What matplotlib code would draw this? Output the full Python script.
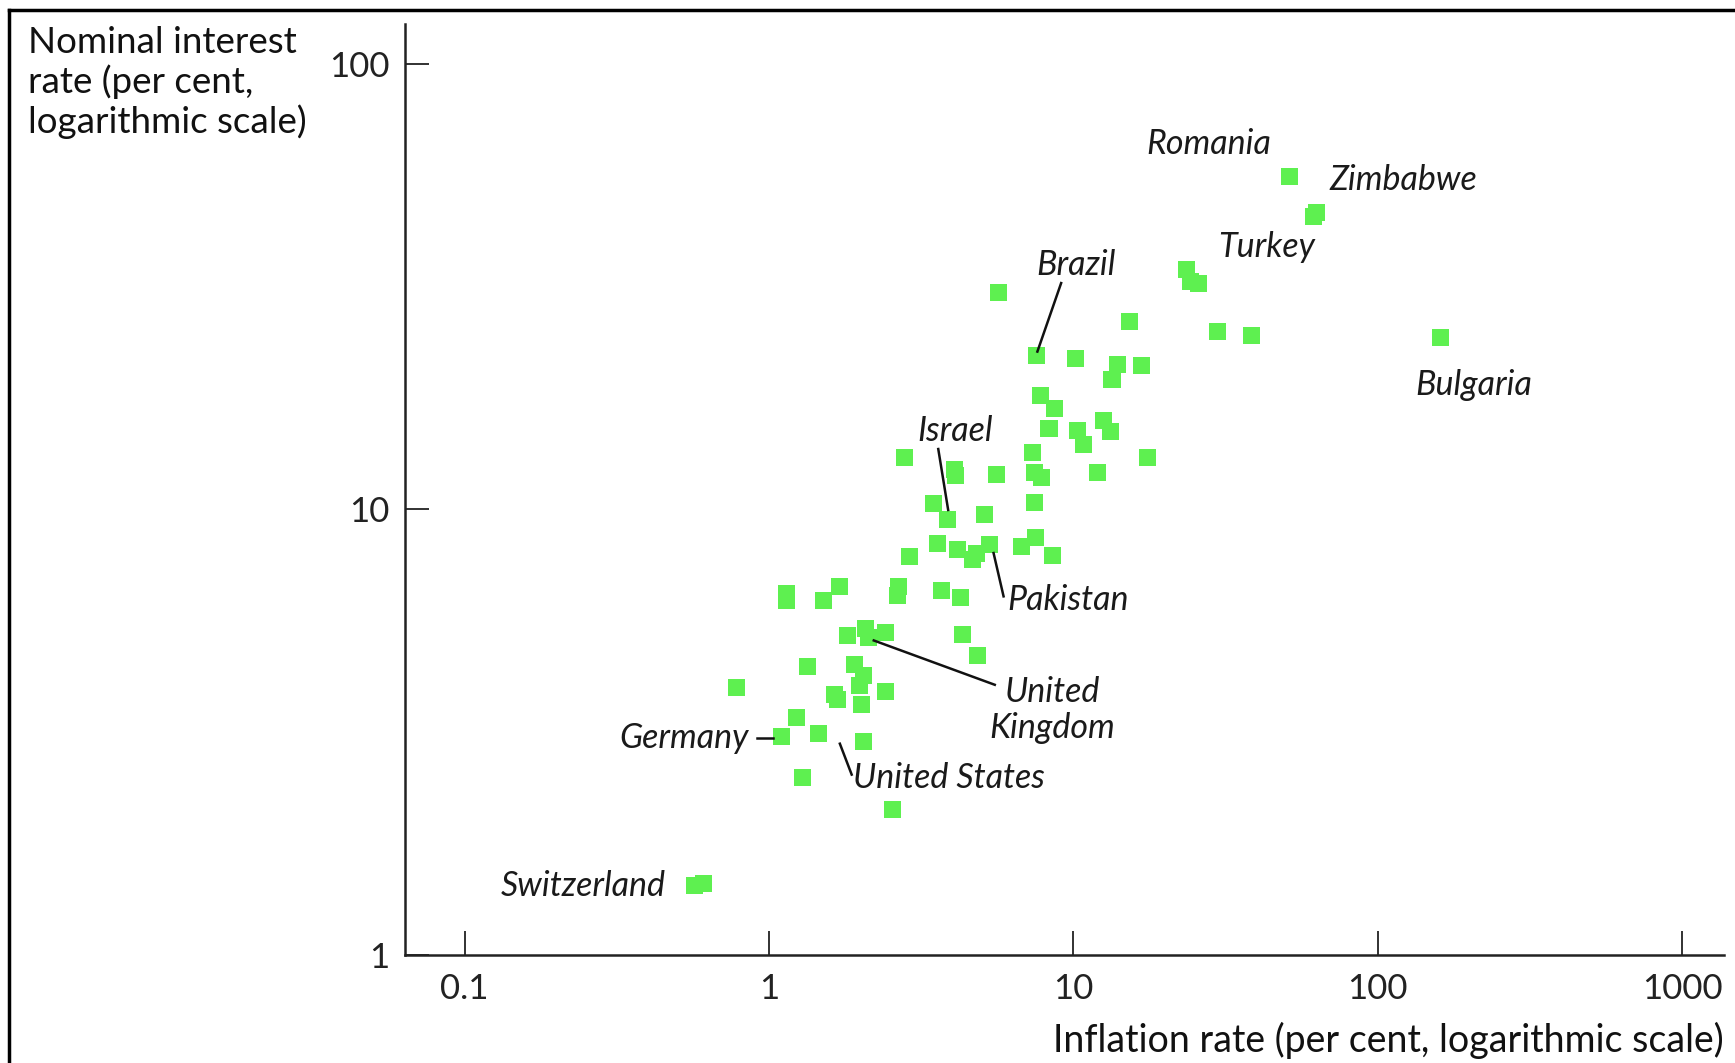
import numpy as np
import matplotlib.pyplot as plt
from matplotlib.lines import Line2D

plt.rcParams['font.family'] = ['Lato', 'DejaVu Sans']

# inflation rate and nominal interest rate, per cent
inflation = [0.57, 0.61, 0.785, 1.10, 1.23, 1.29, 1.46, 1.34, 1.14, 1.14,
             1.51, 1.71, 1.81, 2.07, 2.12, 2.41, 1.905, 2.04, 1.99, 1.68,
             1.64, 2.02, 2.41, 2.04, 2.55, 2.64, 2.66, 2.90, 2.78, 3.48,
             3.85, 3.57, 4.15, 3.69, 4.26, 4.08, 4.10, 4.33, 4.83, 4.67,
             4.79, 5.12, 5.29, 5.61, 5.66, 6.75, 7.34, 7.46, 7.84, 7.46,
             7.52, 8.53, 7.59, 7.78, 8.67, 8.32, 10.2, 10.3, 10.8, 12.0,
             12.6, 13.2, 13.4, 14.0, 15.3, 16.7, 17.5, 23.5, 24.3, 25.8,
             29.7, 38.5, 51.2, 61.5, 63.0, 161]
interest = [1.43, 1.45, 3.99, 3.09, 3.42, 2.50, 3.14, 4.43, 6.46, 6.24,
            6.24, 6.72, 5.22, 5.41, 5.16, 5.29, 4.48, 4.23, 4.02, 3.75,
            3.84, 3.64, 3.90, 3.02, 2.12, 6.42, 6.72, 7.84, 13.05, 10.3,
            9.47, 8.40, 8.11, 6.57, 6.35, 12.3, 11.9, 5.25, 4.71, 7.71,
            7.98, 9.75, 8.35, 11.97, 30.6, 8.26, 13.43, 12.1, 11.77, 10.38,
            8.64, 7.88, 22.2, 17.97, 16.87, 15.2, 21.8, 15.06, 13.97, 12.1,
            15.85, 14.97, 19.6, 21.1, 26.4, 21.0, 13.05, 34.5, 32.4, 32.2,
            25.1, 24.6, 55.8, 45.4, 46.3, 24.3]

# country labels: text, text position, alignment, leader line (or None)
labels = [
    ("Romania", (27.8, 65.9), "center", None),
    ("Zimbabwe", (69.2, 54.8), "left", None),
    ("Turkey", (29.9, 38.7), "left", None),
    ("Brazil", (10.2, 35.3), "center", ((9.12, 32.2), (7.62, 22.6))),
    ("Bulgaria", (207, 19.0), "center", None),
    ("Israel", (4.08, 14.97), "center", ((3.60, 13.66), (3.88, 9.97))),
    ("Pakistan", (6.05, 6.27), "left", ((5.47, 7.98), (5.90, 6.38))),
    ("United\nKingdom", (8.53, 3.54), "center", ((2.21, 5.08), (5.52, 4.04))),
    ("Germany", (0.86, 3.07), "right", ((0.912, 3.07), (1.034, 3.07))),
    ("United States", (1.89, 2.50), "left", ((1.71, 2.98), (1.87, 2.54))),
    ("Switzerland", (0.459, 1.426), "right", None),
]

fig = plt.figure(figsize=(17.35, 10.63), dpi=100)
ax = fig.add_axes([0.2334, 0.1016, 0.7603, 0.8758])

ax.scatter(inflation, interest, s=150, marker='s', color='#5ef050',
           edgecolors='none', zorder=3)

ax.set_xscale('log')
ax.set_yscale('log')
ax.set_xlim(0.0637, 1374)
ax.set_ylim(1, 122.8)

ax.set_xticks([0.1, 1, 10, 100, 1000])
ax.set_xticklabels(['0.1', '1', '10', '100', '1000'])
ax.set_yticks([1, 10, 100])
ax.set_yticklabels(['1', '10', '100'])
ax.minorticks_off()
ax.tick_params(axis='both', direction='in', length=17, width=1.3,
               labelsize=25, colors='#222222')
ax.tick_params(axis='x', pad=13)
ax.tick_params(axis='y', pad=11)

for side in ['top', 'right']:
    ax.spines[side].set_visible(False)
for side in ['left', 'bottom']:
    ax.spines[side].set_linewidth(1.8)
    ax.spines[side].set_color('#222222')

for text, pos, ha, leader in labels:
    ax.text(pos[0], pos[1], text, ha=ha, va='center', fontsize=24.5,
            style='italic', color='#1a1a1a', linespacing=1.15)
    if leader is not None:
        ax.plot([leader[0][0], leader[1][0]], [leader[0][1], leader[1][1]],
                color='#111111', lw=1.8, zorder=4)

fig.text(0.016, 0.976, "Nominal interest\nrate (per cent,\nlogarithmic scale)",
         ha='left', va='top', fontsize=26.5, linespacing=1.2, color='#111111')
fig.text(0.9937, 0.021, "Inflation rate (per cent, logarithmic scale)",
         ha='right', va='center', fontsize=27, color='#111111')

# frame lines along the top and left edge
fig.add_artist(Line2D([0.005, 1.0], [0.9905, 0.9905], color='black', lw=2.5,
                      transform=fig.transFigure))
fig.add_artist(Line2D([0.005, 0.005], [0.0, 0.9905], color='black', lw=2.5,
                      transform=fig.transFigure))

fig.savefig('out.png', dpi=100)
